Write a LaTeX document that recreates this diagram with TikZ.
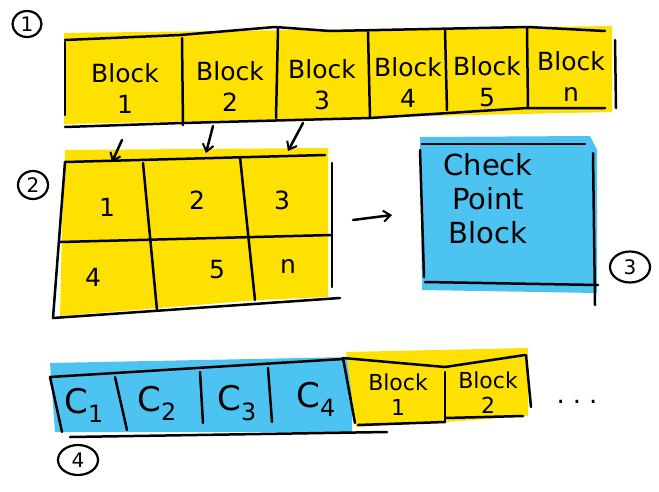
\documentclass[tikz,border=0pt]{standalone}
\usepackage{fontspec}
\setmainfont{DejaVu Sans}
\usetikzlibrary{arrows.meta,shapes.geometric}
\definecolor{hiyellow}{HTML}{FFE100}
\definecolor{hiblue}{HTML}{4DC3F1}
\begin{document}
\begin{tikzpicture}[x=1pt,y=-1pt,
  ink/.style={line width=2.5pt,line cap=round,line join=round,black},
  pointer/.style={ink,-{Straight Barb[length=7pt,width=11pt,line width=2pt]}},
  lbl/.style={inner sep=0pt,align=center,font=\fontsize{25}{31}\selectfont},
  lblsmall/.style={inner sep=0pt,align=center,font=\fontsize{22}{25}\selectfont},
  lblbig/.style={inner sep=0pt,align=center,font=\fontsize{29}{34}\selectfont},
  cnum/.style={inner sep=0pt,font=\fontsize{34}{34}\selectfont},
  circnum/.style={draw,ellipse,line width=2.2pt,inner sep=0pt,font=\fontsize{20}{20}\selectfont}]
\useasboundingbox (0,0) rectangle (659,491);
\fill[white] (0,0) rectangle (659,491);

% ---------- part 1: row of blocks ----------
\fill[hiyellow] (64,33) -- (612,26) -- (612,112) -- (64,124) -- cycle;
\draw[ink] (65,40) -- (180,35) -- (275,27) -- (330,31) -- (528,27) -- (605,31);
\draw[ink] (65,127) -- (182,123) -- (370,118) -- (527,108) -- (605,108);
\draw[ink] (65,42) -- (65,115);
\draw[ink] (182,38) -- (183,125);
\draw[ink] (278,28) -- (276,118);
\draw[ink] (368,32) -- (370,118);
\draw[ink] (445,30) -- (447,110);
\draw[ink] (527,28) -- (528,108);
\draw[ink] (615,40) -- (616,108);
\node[circnum,minimum width=29pt,minimum height=26pt] (c1) at (27,24) {1};
\node[lbl] (b1) at (125,88) {Block\\1};
\node[lbl] (b2) at (230,86) {Block\\2};
\node[lbl] (b3) at (322,85) {Block\\3};
\node[lbl] (b4) at (408,82) {Block\\4};
\node[lbl] (b5) at (487,82) {Block\\5};
\node[lbl] (b6) at (571,76) {Block\\n};

% ---------- part 2: grid ----------
\fill[hiyellow] (65,150) -- (328,148) -- (328,297) -- (258,300) -- (60,316) -- (62,230) -- cycle;
\draw[ink] (65,162) -- (325,155);
\draw[ink] (65,162) -- (53,318);
\draw[ink] (60,242) -- (332,235);
\draw[ink] (53,318) -- (340,298);
\draw[ink] (143,163) -- (157,310);
\draw[ink] (240,157) -- (255,300);
\draw[ink] (332,163) -- (332,287);
\node[circnum,minimum width=30pt,minimum height=28pt] (c2) at (33,185) {2};
\node[lbl] (g1) at (107,207) {1};
\node[lbl] (g2) at (197,200) {2};
\node[lbl] (g3) at (282,200) {3};
\node[lbl] (g4) at (93,277) {4};
\node[lbl] (g5) at (217,270) {5};
\node[lbl] (g6) at (288,266) {n};

\coordinate (a1s) at (122,140); \coordinate (a1e) at (112,162);
\coordinate (a2s) at (213,126); \coordinate (a2e) at (206,153);
\coordinate (a3s) at (303,123); \coordinate (a3e) at (288,151);
\draw[pointer] (a1s) -- (a1e);
\draw[pointer] (a2s) -- (a2e);
\draw[pointer] (a3s) -- (a3e);

% ---------- part 3: checkpoint block ----------
\fill[hiblue] (420,137) -- (590,136) -- (597,150) -- (597,293) -- (422,290) -- cycle;
\draw[ink] (422,144) -- (585,144);
\draw[ink] (420,150) -- (424,277);
\draw[ink] (593,153) -- (595,305);
\draw[ink] (425,282) -- (598,285);
\node[lblbig] (cp) at (488,199) {Check\\Point\\Block};
\node[circnum,minimum width=40pt,minimum height=31pt] (c3) at (630,267) {3};
\coordinate (a4s) at (353,220); \coordinate (a4e) at (392,215);
\draw[pointer] (a4s) -- (a4e);

% ---------- part 4: checkpoint + blocks row ----------
\fill[hiblue] (50,363) -- (352,357) -- (352,432) -- (55,432) -- cycle;
\fill[hiyellow] (346,352) -- (528,348) -- (528,416) -- (445,422) -- (356,427) -- cycle;
\draw[ink] (50,377) -- (343,359);
\draw[ink] (50,377) -- (62,432);
\draw[ink] (115,377) -- (127,430);
\draw[ink] (200,372) -- (203,423);
\draw[ink] (268,368) -- (272,422);
\draw[ink] (70,437) -- (387,432);
\draw[ink] (343,358) -- (355,423);
\draw[ink] (343,358) -- (445,367) -- (525,355);
\draw[ink] (445,372) -- (445,422);
\draw[ink] (358,425) -- (445,422);
\draw[ink] (445,418) -- (523,416);
\draw[ink] (526,355) -- (531,407);
\node[cnum] (k1) at (84,405) {C\textsubscript{1}};
\node[cnum] (k2) at (157,403) {C\textsubscript{2}};
\node[cnum] (k3) at (237,403) {C\textsubscript{3}};
\node[cnum] (k4) at (316,399) {C\textsubscript{4}};
\node[lblsmall] (d1) at (398,395) {Block\\1};
\node[lblsmall] (d2) at (488,393) {Block\\2};
\node[inner sep=0pt,font=\fontsize{26}{26}\selectfont] (dots) at (577,402) {.\hspace{8pt}.\hspace{8pt}.};
\node[circnum,minimum width=40pt,minimum height=30pt] (c4) at (78,460) {4};
\end{tikzpicture}
\end{document}
